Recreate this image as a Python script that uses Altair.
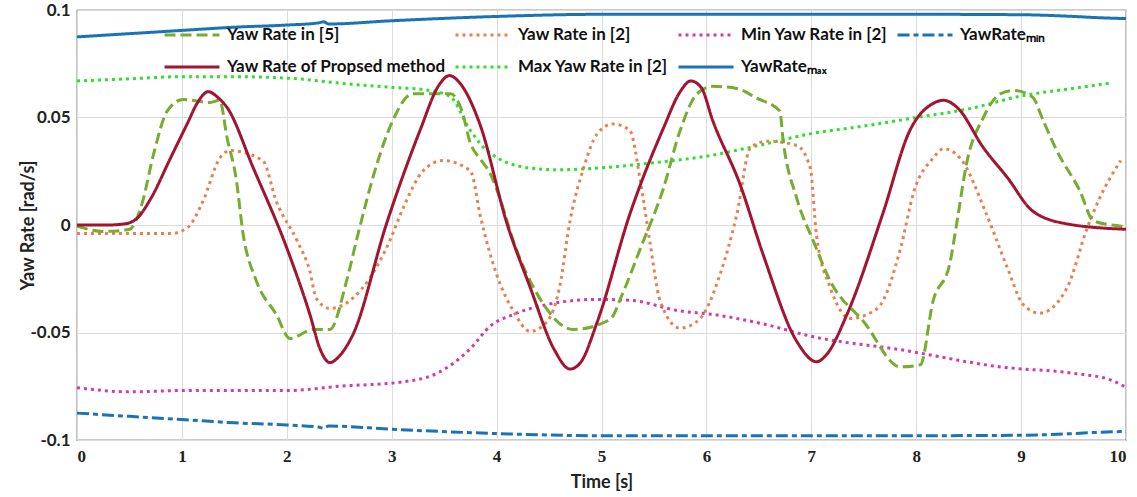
import altair as alt
import pandas as pd

# ---- data ----
t_prop = [0, 0.3, 0.45, 0.57, 0.7, 0.89, 1.05, 1.15, 1.25, 1.35, 1.43, 1.68, 2.0, 2.22, 2.32, 2.41, 2.5, 2.63,
          2.95, 3.27, 3.45, 3.55, 3.65, 3.84, 4.1, 4.32, 4.55, 4.7, 4.8, 4.96, 5.27, 5.59, 5.75, 5.85, 5.95,
          6.06, 6.32, 6.54, 6.86, 7.05, 7.15, 7.34, 7.68, 7.94, 8.16, 8.26, 8.39, 8.64, 8.87, 9.11, 9.44, 10]
v_prop = [0, 0, 0.0005, 0.003, 0.012, 0.031, 0.047, 0.057, 0.062, 0.059, 0.0547, 0.0266, -0.0107, -0.0416, -0.058,
          -0.064, -0.061, -0.051, 0.0005, 0.044, 0.065, 0.0695, 0.066, 0.047, 0.0005, -0.029, -0.058, -0.067,
          -0.064, -0.045, 0.005, 0.045, 0.062, 0.067, 0.064, 0.0486, 0.019, -0.0136, -0.054, -0.0636, -0.060,
          -0.0416, 0.005, 0.044, 0.0565, 0.058, 0.0547, 0.036, 0.022, 0.0065, 0.0005, -0.002]

t_ref5 = [0, 0.25, 0.5, 0.62, 0.73, 0.86, 1.01, 1.27, 1.36, 1.43, 1.52, 1.58, 1.71, 1.9, 2.03, 2.25, 2.41, 2.57,
          2.67, 2.86, 3.01, 3.2, 3.56, 3.67, 3.75, 3.84, 3.94, 4.03, 4.16, 4.41, 4.73, 5.08, 5.2, 5.37, 5.59,
          5.75, 5.91, 6.06, 6.29, 6.48, 6.7, 6.73, 6.86, 7.02, 7.18, 7.5, 7.85, 8.04, 8.16, 8.32, 8.39, 8.48,
          8.64, 8.8, 8.93, 9.11, 9.21, 9.34, 9.56, 9.69, 9.94, 10]
v_ref5 = [-0.0005, -0.003, -0.002, 0.01, 0.033, 0.053, 0.0584, 0.057, 0.058, 0.0407, 0.0206, -0.003, -0.026,
          -0.0416, -0.0528, -0.0486, -0.0486, -0.026, -0.006, 0.0285, 0.0486, 0.061, 0.061, 0.053, 0.038, 0.031,
          0.0238, 0.0126, -0.0075, -0.034, -0.0486, -0.044, -0.032, -0.011, 0.017, 0.044, 0.061, 0.0645, 0.0635,
          0.059, 0.053, 0.040, 0.0126, -0.0075, -0.026, -0.045, -0.066, -0.065, -0.0355, -0.018, 0.0019, 0.0285,
          0.05, 0.061, 0.0626, 0.0594, 0.0486, 0.0346, 0.0159, 0.0019, -0.0005, -0.001]

t_ref2 = [0, 0.89, 1.05, 1.2, 1.36, 1.46, 1.77, 1.9, 2.1, 2.22, 2.28, 2.41, 2.63, 2.79, 2.98, 3.11, 3.3, 3.49,
          3.75, 3.85, 4.0, 4.16, 4.32, 4.48, 4.6, 4.7, 4.83, 4.96, 5.11, 5.27, 5.37, 5.46, 5.56, 5.75, 5.94,
          6.13, 6.29, 6.42, 6.58, 6.86, 6.99, 7.05, 7.18, 7.37, 7.63, 7.85, 7.98, 8.16, 8.26, 8.42, 8.67, 8.87,
          9.02, 9.18, 9.44, 9.63, 9.75, 9.95]
v_ref2 = [-0.004, -0.004, -0.0014, 0.011, 0.031, 0.0346, 0.030, 0.011, -0.0075, -0.0215, -0.034, -0.0388,
          -0.034, -0.0248, -0.0075, 0.008, 0.0252, 0.030, 0.0252, 0.003, -0.023, -0.040, -0.0495, -0.045, -0.029,
          0.0019, 0.0266, 0.0425, 0.047, 0.044, 0.0206, -0.0075, -0.0355, -0.048, -0.0435, -0.023, 0.005, 0.036,
          0.039, 0.037, 0.0266, -0.005, -0.029, -0.0435, -0.0388, -0.011, 0.0159, 0.031, 0.0355, 0.031, 0.005,
          -0.020, -0.037, -0.041, -0.029, -0.0014, 0.0126, 0.030]

t_max2 = [0, 0.5, 1, 1.5, 2.1, 2.5, 3.0, 3.3, 3.55, 3.75, 3.9, 4.3, 4.6, 5.0, 5.5, 6.0, 6.5, 7.0, 7.5, 8.0,
          8.5, 9.0, 9.5, 9.85]
v_max2 = [0.067, 0.068, 0.069, 0.069, 0.068, 0.066, 0.064, 0.063, 0.060, 0.044, 0.035, 0.0266, 0.0257, 0.0266,
          0.029, 0.032, 0.037, 0.0425, 0.046, 0.050, 0.054, 0.060, 0.0636, 0.066]

t_min2 = [0, 0.5, 1, 2, 2.5, 3.1, 3.43, 3.75, 3.94, 4.16, 4.48, 4.96, 5.27, 5.75, 6.06, 6.54, 7.02, 7.85, 8.8,
          9.5, 9.85, 10]
v_min2 = [-0.0757, -0.0776, -0.077, -0.077, -0.075, -0.073, -0.069, -0.0575, -0.047, -0.0416, -0.037, -0.0346,
          -0.035, -0.040, -0.0416, -0.046, -0.052, -0.058, -0.066, -0.069, -0.072, -0.0755]

t_env = [0, 0.5, 1, 1.5, 2, 2.3, 2.35, 2.4, 3, 4, 5, 6, 7, 8, 9, 9.5, 9.7, 10]
v_env_max = [0.0875, 0.089, 0.0905, 0.092, 0.093, 0.094, 0.0945, 0.0935, 0.095, 0.097, 0.098, 0.098, 0.098,
             0.098, 0.0978, 0.097, 0.0965, 0.096]
v_env_min = [-0.0875, -0.089, -0.0905, -0.092, -0.093, -0.094, -0.0945, -0.0935, -0.095, -0.097, -0.098, -0.098,
             -0.098, -0.098, -0.0978, -0.097, -0.0965, -0.096]

# legend order (row-major, 4 columns)
names = ["Yaw Rate in [5]", "Yaw Rate in [2]", "Min Yaw Rate in [2]", "YawRate\u2098\u1d62\u2099",
         "Yaw Rate of Propsed method", "Max Yaw Rate in [2]", "YawRate\u2098\u2090\u2093"]
colors = ["#77AC30", "#E8814D", "#D13BAA", "#1A73B5", "#A2142F", "#2EE02E", "#1A73B5"]
dashes = [[11, 5], [3, 4], [3, 4], [12, 4, 5, 4], [1, 0], [3, 4], [1, 0]]

# drawing order (last on top)
draw = [
    (names[6], t_env, v_env_max),
    (names[3], t_env, v_env_min),
    (names[5], t_max2, v_max2),
    (names[2], t_min2, v_min2),
    (names[1], t_ref2, v_ref2),
    (names[0], t_ref5, v_ref5),
    (names[4], t_prop, v_prop),
]
rows = []
for name, ts, vs in draw:
    for t, v in zip(ts, vs):
        rows.append({"series": name, "t": t, "v": v})
df = pd.DataFrame(rows)

FONT = "Lato"


def make_legend():
    return alt.Legend(title=None, orient="none", legendX=86, legendY=15, columns=4, direction="horizontal",
                      symbolType="stroke", symbolSize=3025, symbolStrokeWidth=3,
                      labelFont=FONT, labelFontSize=17, labelFontWeight="bold",
                      labelColor="#111", labelLimit=0, labelOffset=6, clipHeight=20,
                      columnPadding=8, rowPadding=12, symbolOffset=0)


chart = alt.Chart(df).mark_line(interpolate="monotone", strokeWidth=3, strokeCap="butt").encode(
    x=alt.X("t:Q", scale=alt.Scale(domain=[0, 10], nice=False),
            axis=alt.Axis(title="Time [s]", values=list(range(11)), format="d",
                          labelFont="Liberation Sans Narrow", labelFontSize=17, labelFontWeight="bold",
                          labelPadding=8, titlePadding=9)),
    y=alt.Y("v:Q", scale=alt.Scale(domain=[-0.1, 0.1], nice=False),
            axis=alt.Axis(title="Yaw Rate [rad/s]", values=[-0.1, -0.05, 0, 0.05, 0.1],
                          labelExpr="toString(datum.value)", labelPadding=7, titlePadding=-7)),
    color=alt.Color("series:N", scale=alt.Scale(domain=names, range=colors), sort=names,
                    legend=make_legend()),
    strokeDash=alt.StrokeDash("series:N", scale=alt.Scale(domain=names, range=dashes), sort=names,
                              legend=make_legend()),
).properties(
    width=1049, height=430,
    autosize=alt.AutoSizeParams(type="none"),
    padding={"left": 77, "top": 10, "right": 11, "bottom": 57},
    background="white",
).configure_view(
    stroke="#333", strokeWidth=1.2
).configure_axis(
    grid=True, gridColor="#dcdcdc", gridWidth=1, domain=False, ticks=False,
    labelFont=FONT, labelFontSize=17, labelFontWeight="bold", labelColor="#222",
    titleFont=FONT, titleFontSize=18, titleFontWeight="bold", titleColor="#222",
)

chart.save("out.html", embed_options={"renderer": "svg", "actions": False})
